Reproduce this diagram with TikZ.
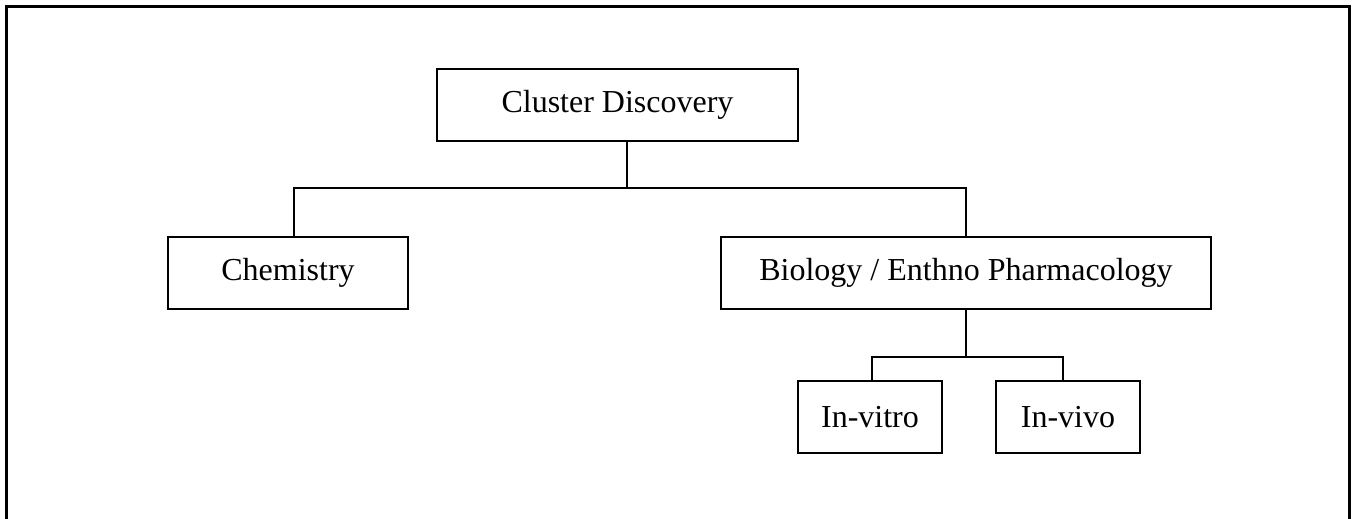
\documentclass[tikz,border=0pt]{standalone}
\usepackage{fontspec}
\setmainfont{Liberation Serif}
\begin{document}
\begin{tikzpicture}[x=1pt,y=-1pt,
  box/.style={draw,line width=2pt,rectangle,inner sep=0pt,minimum height=72pt,font=\fontsize{32}{38}\selectfont},
  conn/.style={line width=1.6pt}]
\useasboundingbox (0,0) rectangle (1352,519);
\draw[line width=3pt] (6,530) -- (6,7) -- (1349,7) -- (1349,530);
\node[box,minimum width=361pt] (cd) at (617.5,105) {Cluster Discovery};
\node[box,minimum width=240pt] (chem) at (288,273) {Chemistry};
\node[box,minimum width=490pt] (bio) at (966,273) {Biology / Enthno Pharmacology};
\node[box,minimum width=144pt] (vitro) at (870,417) {In-vitro};
\node[box,minimum width=144pt] (vivo) at (1068,417) {In-vivo};
\coordinate (j1) at (627,188);
\coordinate (jl) at (294,188);
\coordinate (jr) at (966,188);
\coordinate (j2) at (966,357);
\coordinate (jv1) at (872,357);
\coordinate (jv2) at (1063,357);
\draw[conn] (cd.south -| j1) -- (j1);
\draw[conn] (jl |- chem.north) -- (jl) -- (jr) -- (jr |- bio.north);
\draw[conn] (bio.south -| j2) -- (j2);
\draw[conn] (jv1 |- vitro.north) -- (jv1) -- (jv2) -- (jv2 |- vivo.north);
\end{tikzpicture}
\end{document}
